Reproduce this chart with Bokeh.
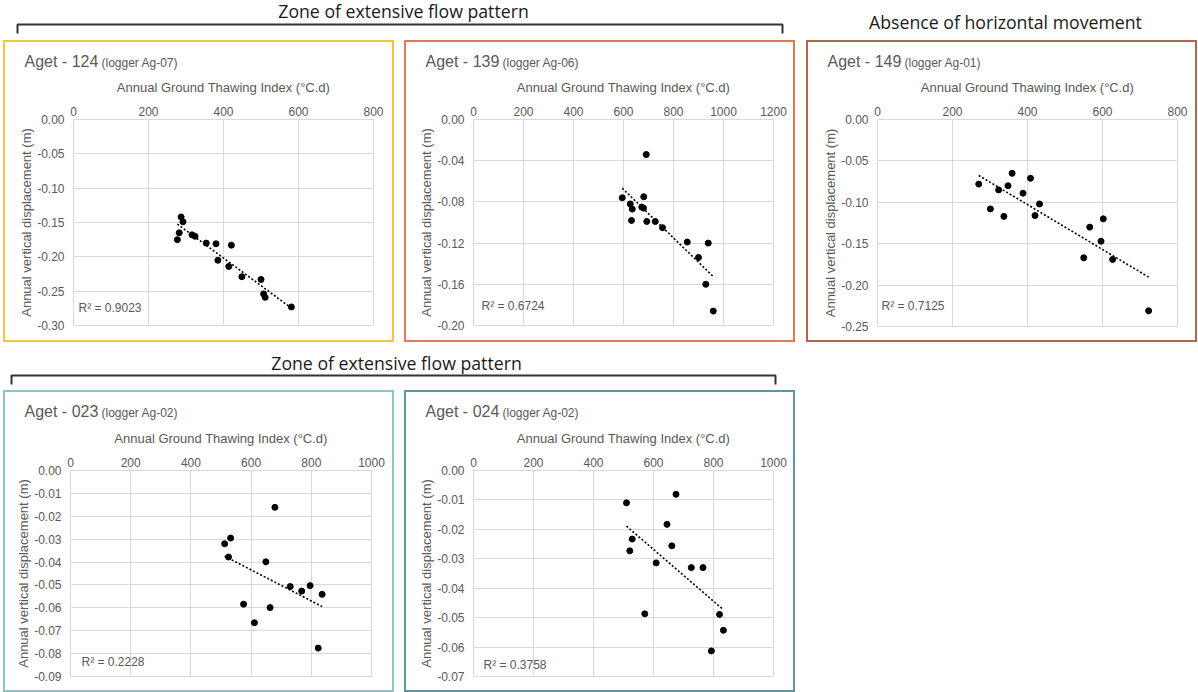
import numpy as np
from bokeh.plotting import figure
from bokeh.layouts import column, row
from bokeh.models import (Range1d, FixedTicker, PrintfTickFormatter, Label, Spacer)
from bokeh.core.properties import value
from bokeh.embed import file_html
from bokeh.resources import INLINE

# ---- data: annual ground thawing index (°C.d) vs annual vertical displacement (m)
aget124_gti = [277, 282, 287, 292, 316, 324, 354, 380, 385, 421, 414, 449, 500, 507, 511, 581]
aget124_disp = [-0.175, -0.165, -0.142, -0.149, -0.168, -0.170, -0.180, -0.181, -0.205,
                -0.183, -0.214, -0.229, -0.233, -0.254, -0.259, -0.273]

aget139_gti = [595, 627, 635, 632, 691, 681, 673, 680, 693, 727, 756, 855, 939, 900, 929, 959]
aget139_disp = [-0.076, -0.082, -0.087, -0.098, -0.034, -0.075, -0.085, -0.086, -0.099,
                -0.099, -0.105, -0.119, -0.120, -0.134, -0.160, -0.186]

aget149_gti = [270, 301, 323, 337, 348, 359, 388, 408, 420, 432, 550, 566, 596, 602, 627, 723]
aget149_disp = [-0.078, -0.108, -0.085, -0.117, -0.080, -0.065, -0.089, -0.071, -0.116,
                -0.102, -0.167, -0.130, -0.147, -0.120, -0.169, -0.231]

aget023_gti = [512, 532, 525, 679, 649, 730, 768, 796, 836, 575, 663, 611, 823]
aget023_disp = [-0.0320, -0.0295, -0.0378, -0.0161, -0.0399, -0.0507, -0.0527, -0.0503,
                -0.0541, -0.0584, -0.0599, -0.0665, -0.0776]

aget024_gti = [510, 675, 645, 529, 521, 661, 609, 726, 765, 571, 820, 833, 793]
aget024_disp = [-0.0110, -0.0081, -0.0183, -0.0233, -0.0273, -0.0256, -0.0314, -0.0330,
                -0.0330, -0.0487, -0.0489, -0.0543, -0.0613]

r2_labels = ["R² = 0.9023", "R² = 0.6724", "R² = 0.7125", "R² = 0.2228", "R² = 0.3758"]
site_names = ["Aget - 124", "Aget - 139", "Aget - 149", "Aget - 023", "Aget - 024"]
logger_names = ["(logger Ag-07)", "(logger Ag-06)", "(logger Ag-01)", "(logger Ag-02)", "(logger Ag-02)"]
group_titles = ["Zone of extensive flow pattern", "Absence of horizontal movement",
                "Zone of extensive flow pattern"]

X_LABEL = "Annual Ground Thawing Index (°C.d)"
Y_LABEL = "Annual vertical displacement (m)"
GREY = "#595959"
GRID = "#D9D9D9"
TICK_FONT = "Liberation Sans"
HEAD_FONT = "Open Sans"

BW = 2                     # box border width
PW, PH = 391 - 2 * BW, 302 - 2 * BW   # inner box size
STRIP = 30                 # height of the heading strip inside each box


def heading_strip(idx):
    s = figure(width=PW, height=STRIP, x_range=Range1d(0, PW), y_range=Range1d(STRIP, 0),
               toolbar_location=None, output_backend="svg", x_axis_type=None,
               y_axis_type=None, min_border=0, title=None)
    s.frame_align = False
    s.grid.visible = False
    s.outline_line_color = None
    s.text(x=[19], y=[25 - 6.4], text=[site_names[idx]], text_font=value(TICK_FONT),
           text_font_size="16px", text_color=GREY, text_baseline="alphabetic")
    s.text(x=[96], y=[25 - 4.8], text=[logger_names[idx]], text_font=value(TICK_FONT),
           text_font_size="12px", text_color=GREY, text_baseline="alphabetic")
    return s


def panel(idx, gti, disp, x_max, y_min, y_step, border, frame, r2_xy):
    left, right, top, bottom = frame
    p = figure(width=PW, height=PH - STRIP, x_range=Range1d(0, x_max),
               y_range=Range1d(y_min, 0), x_axis_location="above", toolbar_location=None,
               output_backend="svg", title=None,
               min_border_left=left - BW, min_border_right=right - BW,
               min_border_top=top - BW - STRIP, min_border_bottom=bottom - BW)
    p.frame_align = False
    p.xaxis.ticker = FixedTicker(ticks=list(range(0, x_max + 1, 200)))
    n = int(round(-y_min / y_step))
    p.yaxis.ticker = FixedTicker(ticks=[round(-i * y_step, 4) for i in range(n + 1)])
    p.yaxis.formatter = PrintfTickFormatter(format="%.2f")
    p.xaxis.axis_label = X_LABEL
    p.yaxis.axis_label = Y_LABEL
    for ax in (p.xaxis[0], p.yaxis[0]):
        ax.axis_line_color = None
        ax.major_tick_line_color = None
        ax.minor_tick_line_color = None
        ax.major_tick_out = 0
        ax.major_tick_in = 0
        ax.major_label_text_font = TICK_FONT
        ax.major_label_text_font_size = "12px"
        ax.major_label_text_color = GREY
        ax.axis_label_text_font = TICK_FONT
        ax.axis_label_text_font_size = "13px"
        ax.axis_label_text_font_style = "normal"
        ax.axis_label_text_color = GREY
    p.xaxis.major_label_standoff = 4
    p.xaxis.axis_label_standoff = 9
    p.yaxis.major_label_standoff = 9
    p.yaxis.axis_label_standoff = 0
    p.grid.grid_line_color = GRID
    p.grid.grid_line_width = 1
    p.outline_line_color = GRID
    p.outline_line_width = 1

    # linear trend of the points
    slope, intercept = np.polyfit(gti, disp, 1)
    xs = [min(gti), max(gti)]
    p.line(xs, [slope * x + intercept for x in xs], line_dash="2 2", line_width=1.6,
           line_color="black")
    p.scatter(gti, disp, size=6, fill_color="black", line_color="black")

    p.add_layout(Label(x=r2_xy[0], y=r2_xy[1] + 5, x_units="screen", y_units="screen",
                       text=r2_labels[idx], text_font=TICK_FONT, text_font_size="12px",
                       text_color=GREY, text_baseline="alphabetic"))
    return column(heading_strip(idx), p, spacing=0,
                  styles={"border": f"{BW}px solid {border}"})


b1 = panel(0, aget124_gti, aget124_disp, 800, -0.30, 0.05, "#F5C443", (70, 21, 79, 17), (5, 13))
b2 = panel(1, aget139_gti, aget139_disp, 1200, -0.20, 0.04, "#DF7B52", (69, 22, 79, 17), (8, 15))
b3 = panel(2, aget149_gti, aget149_disp, 800, -0.25, 0.05, "#B0664A", (71, 20, 79, 16), (4, 16))
b4 = panel(3, aget023_gti, aget023_disp, 1000, -0.09, 0.01, "#8CC3C8", (67, 23, 80, 16), (11, 10))
b5 = panel(4, aget024_gti, aget024_disp, 1000, -0.07, 0.01, "#5E96A5", (69, 22, 80, 16), (10, 7))


def header(y0, y1, brackets, titles):
    h = figure(width=1198, height=y1 - y0, x_range=Range1d(0, 1198), y_range=Range1d(y1, y0),
               toolbar_location=None, output_backend="svg", x_axis_type=None,
               y_axis_type=None, min_border=0, title=None)
    h.frame_align = False
    h.grid.visible = False
    h.outline_line_color = None
    for (xa, xb, yl, yt) in brackets:
        h.line([xa, xa, xb, xb], [yt, yl, yl, yt], line_color="#333333", line_width=2)
    for (tx, ty, txt) in titles:
        h.text(x=[tx], y=[ty - 7], text=[txt], text_font=value(HEAD_FONT),
               text_font_size="17.7px", text_color="#1a1a1a", text_align="center",
               text_baseline="alphabetic")
    return h


h1 = header(0, 40, [(17, 782, 24, 33)],
            [(403, 17.5, group_titles[0]), (1005, 28.5, group_titles[1])])
h2 = header(342, 390, [(11, 775, 375, 384)], [(396, 369.5, group_titles[2])])

layout = column(
    h1,
    row(Spacer(width=3), b1, Spacer(width=10), b2, Spacer(width=11), b3),
    h2,
    row(Spacer(width=3), b4, Spacer(width=10), b5),
)

open("out.html", "w").write(file_html(layout, INLINE))
